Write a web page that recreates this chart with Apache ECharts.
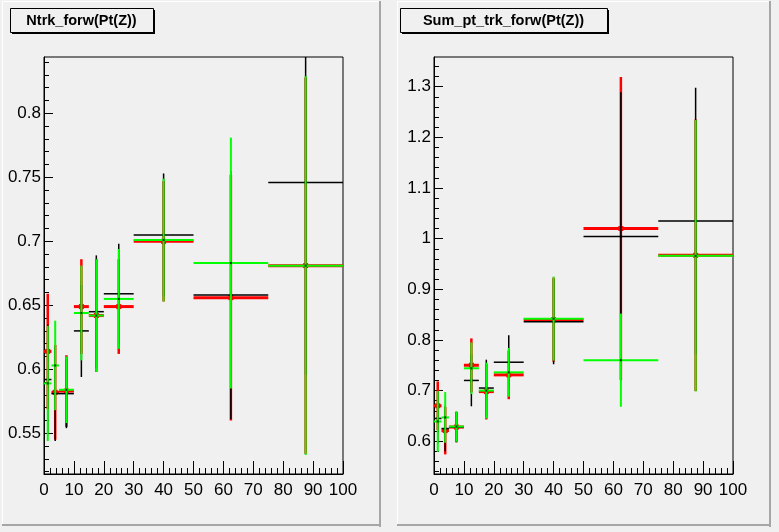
<!DOCTYPE html>
<html>
<head>
<meta charset="utf-8">
<script src="https://cdn.jsdelivr.net/npm/echarts@6/dist/echarts.min.js"></script>
<style>
  html, body { margin: 0; padding: 0; background: #f0f0f0; }
  #chart { width: 779px; height: 532px; }
</style>
</head>
<body>
<div id="chart"></div>
<script>
// Pt(Z) bins (variable width)
const binLo = [0, 2.5, 5, 10, 15, 20, 30, 50, 75];
const binHi = [2.5, 5, 10, 15, 20, 30, 50, 75, 100];

// Ntrk_forw profile: three samples
const ntrkBlack    = [0.592, 0.581, 0.581, 0.630, 0.645, 0.659, 0.705, 0.658, 0.746];
const ntrkBlackErr = [0.043, 0.037, 0.027, 0.036, 0.044, 0.039, 0.048, 0.097, 0.150];
const ntrkRed      = [0.614, 0.582, 0.583, 0.649, 0.642, 0.649, 0.700, 0.656, 0.681];
const ntrkRedErr   = [0.045, 0.037, 0.028, 0.037, 0.044, 0.037, 0.047, 0.096, 0.147];
const ntrkGreen    = [0.589, 0.603, 0.584, 0.644, 0.642, 0.655, 0.701, 0.683, 0.681];
const ntrkGreenErr = [0.045, 0.035, 0.026, 0.037, 0.044, 0.039, 0.048, 0.098, 0.148];

// Sum_pt_trk_forw profile: three samples
const sumptBlack    = [0.645, 0.625, 0.628, 0.720, 0.705, 0.756, 0.836, 1.004, 1.035];
const sumptBlackErr = [0.050, 0.045, 0.030, 0.051, 0.056, 0.053, 0.084, 0.285, 0.263];
const sumptRed      = [0.670, 0.621, 0.628, 0.750, 0.698, 0.731, 0.840, 1.020, 0.967];
const sumptRedErr   = [0.048, 0.047, 0.030, 0.053, 0.055, 0.048, 0.083, 0.299, 0.268];
const sumptGreen    = [0.639, 0.647, 0.629, 0.744, 0.700, 0.736, 0.842, 0.760, 0.966];
const sumptGreenErr = [0.060, 0.050, 0.030, 0.051, 0.055, 0.048, 0.083, 0.092, 0.268];

// Axis ticks
const ntrkTicks  = [0.55, 0.6, 0.65, 0.7, 0.75, 0.8];
const sumptTicks = [0.6, 0.7, 0.8, 0.9, 1.0, 1.1, 1.2, 1.3];
const ntrkMinorStep = 0.01;
const sumptMinorStep = 0.02;

const titles = ['Ntrk_forw(Pt(Z))', 'Sum_pt_trk_forw(Pt(Z))'];

function minorValues(lo, hi, step) {
  const out = [];
  const start = Math.ceil(lo / step - 1e-9);
  const end = Math.floor(hi / step + 1e-9);
  for (let k = start; k <= end; k++) out.push(+(k * step).toFixed(4));
  return out;
}

function rows(vals, errs) {
  return vals.map((v, i) => [binLo[i], binHi[i], v, errs[i]]);
}

const FONT = 'Liberation Sans, Arial, Helvetica, sans-serif';

function makeRender(color, hWidth, vWidth, marker, markerColor) {
  return function (params, api) {
    const lo = api.value(0), hi = api.value(1), y = api.value(2), e = api.value(3);
    const xc = (lo + hi) / 2;
    const cs = params.coordSys;
    const clampY = (p) => Math.max(cs.y, Math.min(cs.y + cs.height, p));
    const pL = api.coord([lo, y]);
    const pR = api.coord([hi, y]);
    const pC = api.coord([xc, y]);
    const pT = api.coord([xc, y + e]);
    const pB = api.coord([xc, y - e]);
    const children = [];
    const yIn = pC[1] >= cs.y && pC[1] <= cs.y + cs.height;
    if (yIn) {
      children.push({
        type: 'line',
        shape: { x1: pL[0], y1: pC[1], x2: pR[0], y2: pC[1] },
        style: { stroke: color, lineWidth: hWidth }
      });
    }
    children.push({
      type: 'line',
      shape: { x1: pC[0], y1: clampY(pT[1]), x2: pC[0], y2: clampY(pB[1]) },
      style: { stroke: color, lineWidth: vWidth }
    });
    if (yIn && marker > 0) {
      children.push({
        type: 'rect',
        shape: { x: pC[0] - marker / 2, y: pC[1] - marker / 2, width: marker, height: marker },
        style: { fill: markerColor }
      });
    }
    return { type: 'group', children: children };
  };
}

const grids = [
  { left: 44, top: 57, width: 299, height: 417 },
  { left: 434, top: 57, width: 299, height: 417 }
];
const yRanges = [[0.5182, 0.8440], [0.5353, 1.3586]];
const majors = [ntrkTicks, sumptTicks];
const minorSteps = [ntrkMinorStep, sumptMinorStep];

const option = {
  animation: false,
  backgroundColor: '#f0f0f0',
  grid: grids.map(g => Object.assign({
    show: true, borderColor: '#000', borderWidth: 1, backgroundColor: 'transparent'
  }, g)),
  xAxis: [0, 1].map(i => ({
    type: 'value', gridIndex: i, min: 0, max: 100, interval: 10,
    axisLine: { show: true, lineStyle: { color: '#000', width: 1 } },
    axisTick: { show: true, inside: true, length: 13, lineStyle: { color: '#000', width: 1 } },
    minorTick: { show: true, splitNumber: 5, length: 6, lineStyle: { color: '#000', width: 1 } },
    splitLine: { show: false },
    axisLabel: { color: '#000', fontSize: 17, fontFamily: FONT, margin: 8 }
  })),
  yAxis: [],
  series: [],
  graphic: []
};

[0, 1].forEach(i => {
  const [mn, mx] = yRanges[i];
  option.yAxis.push({
    type: 'value', gridIndex: i, position: 'left', min: mn, max: mx,
    axisLine: { show: true, lineStyle: { color: '#000', width: 1 } },
    axisTick: { show: true, inside: true, length: 9, customValues: majors[i], lineStyle: { color: '#000', width: 1 } },
    splitLine: { show: false },
    axisLabel: {
      color: '#000', fontSize: 17, fontFamily: FONT, margin: 3,
      customValues: majors[i],
      formatter: v => String(Number(v.toFixed(2)))
    }
  });
  option.yAxis.push({
    type: 'value', gridIndex: i, position: 'left', min: mn, max: mx,
    axisLine: { show: false },
    axisTick: { show: true, inside: true, length: 5, customValues: minorValues(mn, mx, minorSteps[i]), lineStyle: { color: '#000', width: 1 } },
    splitLine: { show: false },
    axisLabel: { show: false }
  });
});

const sets = [
  [ntrkRed, ntrkRedErr, ntrkBlack, ntrkBlackErr, ntrkGreen, ntrkGreenErr],
  [sumptRed, sumptRedErr, sumptBlack, sumptBlackErr, sumptGreen, sumptGreenErr]
];
[0, 1].forEach(i => {
  const s = sets[i];
  const yIdx = i * 2;
  option.series.push({
    type: 'custom', xAxisIndex: i, yAxisIndex: yIdx, z: 3,
    renderItem: makeRender('#ff0000', 3, 2.5, 5, '#ff0000'),
    data: rows(s[0], s[1])
  });
  option.series.push({
    type: 'custom', xAxisIndex: i, yAxisIndex: yIdx, z: 4,
    renderItem: makeRender('#000000', 1.5, 1.5, 2, '#000000'),
    data: rows(s[2], s[3])
  });
  option.series.push({
    type: 'custom', xAxisIndex: i, yAxisIndex: yIdx, z: 5,
    renderItem: makeRender('#00ff00', 2, 2, 2, '#003300'),
    data: rows(s[4], s[5])
  });
});

// pad bevels and title boxes
const pads = [
  { x0: 2, x1: 381, title: titles[0], bx: 10, bw: 143 },
  { x0: 397, x1: 771, title: titles[1], bx: 400, bw: 207 }
];
pads.forEach(p => {
  option.graphic.push(
    { type: 'rect', shape: { x: p.x0, y: 1, width: p.x1 - p.x0, height: 1 }, style: { fill: '#ffffff' } },
    { type: 'rect', shape: { x: p.x0, y: 1, width: 1, height: 525 }, style: { fill: '#ffffff' } },
    { type: 'rect', shape: { x: p.x1 - 2, y: 1, width: 2, height: 526 }, style: { fill: '#a6a6a6' } },
    { type: 'rect', shape: { x: p.x0, y: 524, width: p.x1 - p.x0, height: 2 }, style: { fill: '#a6a6a6' } },
    { type: 'rect', shape: { x: p.bx + 2, y: 10, width: p.bw, height: 24 }, style: { fill: '#000' } },
    { type: 'rect', shape: { x: p.bx + 0.5, y: 8.5, width: p.bw, height: 24 }, style: { fill: '#f0f0f0', stroke: '#000', lineWidth: 1 } },
    {
      type: 'text', x: p.bx + p.bw / 2, y: 21,
      style: { text: p.title, fill: '#000', font: 'bold 14.5px ' + FONT, textAlign: 'center', textVerticalAlign: 'middle' }
    }
  );
});

const chart = echarts.init(document.getElementById('chart'), null, { renderer: 'canvas' });
chart.setOption(option);
</script>
</body>
</html>
